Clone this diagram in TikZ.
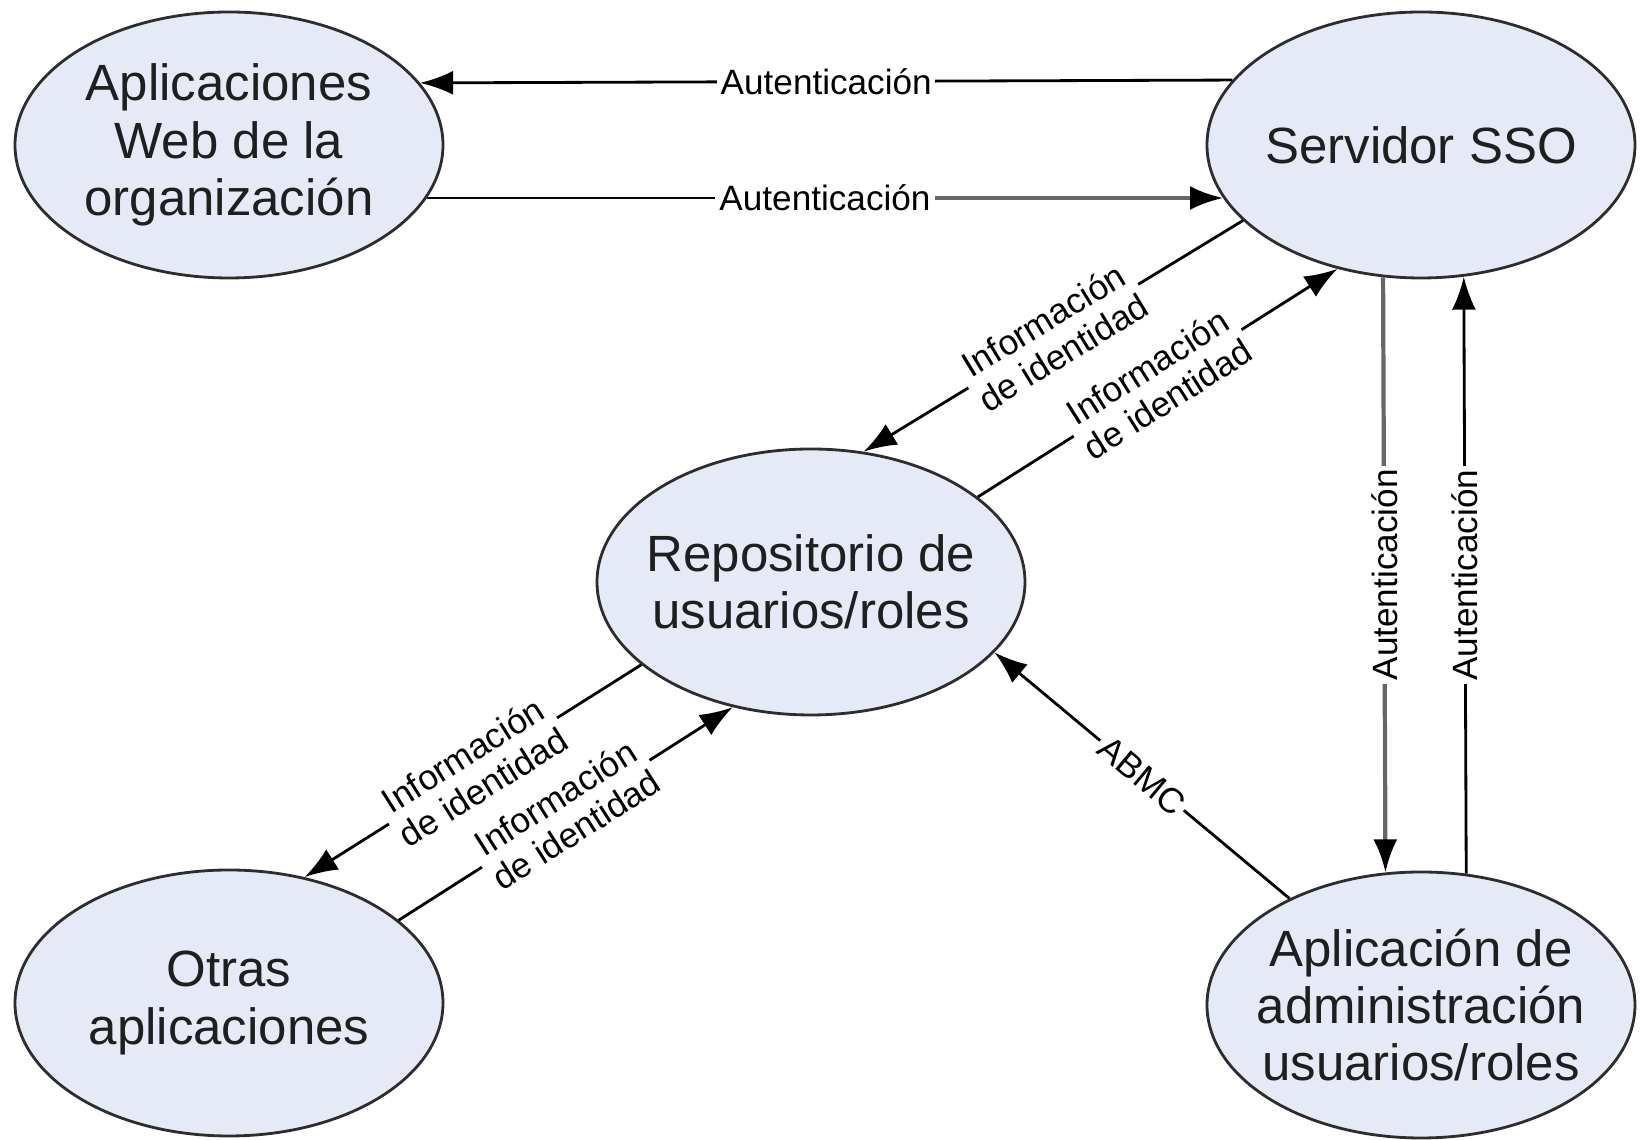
\documentclass[tikz,border=0pt]{standalone}
\usepackage{fontspec}
\setmainfont{Liberation Sans}
\usetikzlibrary{shapes.geometric,arrows.meta}
\definecolor{bubfill}{RGB}{229,234,246}
\definecolor{bubline}{RGB}{45,45,45}
\tikzset{
  bub/.style={ellipse,draw=bubline,fill=bubfill,minimum width=4.28cm,minimum height=2.66cm,inner sep=0pt},
  bubtxt/.style={align=center,font=\fontsize{14.5}{16.3}\selectfont,text=black!88},
  arr/.style={-{Latex[length=3.3mm,width=2.4mm,color=black]}},
  dim/.style={draw=black!60,line width=1.2pt},
  lbl/.style={fill=white,inner sep=1pt,align=center,font=\fontsize{10}{10.8}\selectfont}
}
\begin{document}
\begin{tikzpicture}[line width=.8pt]
	\useasboundingbox (0,0) rectangle (16.44,11.40);
	\node[bub] (web) at (2.29,9.95) {};
	\node[bubtxt] (webt) at (web) {Aplicaciones\\Web de la\\organización};
	\node[bub] (sso) at (14.21,9.95) {};
	\node[bubtxt] (ssot) at (sso) {Servidor SSO};
	\node[bub] (repo) at (8.11,5.58) {};
	\node[bubtxt] (repot) at (repo) {Repositorio de\\usuarios/roles};
	\node[bub] (otras) at (2.29,1.37) {};
	\node[bubtxt] (otrast) at (otras) {Otras\\aplicaciones};
	\node[bub] (admin) at (14.21,1.35) {};
	\node[bubtxt] (admint) at (admin) {Aplicación de\\administración\\usuarios/roles};

	\draw[arr] (sso.161.87) -- node[lbl] (aut1) {Autenticación} (web.18.13);
	\path (web.-15.43) -- node[lbl] (aut2) {Autenticación} (sso.195.43);
	\draw (web.-15.43) -- (aut2.west);
	\draw[arr,dim] (aut2.east) -- (sso.195.43);

	\draw[arr] (sso.203.1) -- node[lbl,sloped] (inf1) {Información\\de identidad} (repo.68.2);
	\draw[arr] (repo.27.5) -- node[lbl,sloped] (inf2) {Información\\de identidad} (sso.236.4);
	\draw[arr] (repo.206.2) -- node[lbl,sloped] (inf3) {Información\\de identidad} (otras.59.7);
	\draw[arr] (otras.26.2) -- node[lbl,sloped] (inf4) {Información\\de identidad} (repo.238.2);
	\draw[arr] (admin.141.3) -- node[lbl,sloped] (abmc) {ABMC} (repo.339.8);

	\draw[arr,dim] (sso.254.64) -- node[lbl,rotate=90] (aut3) {Autenticación} (admin.105.36);
	\draw[arr] (admin.71.33) -- node[lbl,rotate=90] (aut4) {Autenticación} (sso.288.67);
\end{tikzpicture}
\end{document}
